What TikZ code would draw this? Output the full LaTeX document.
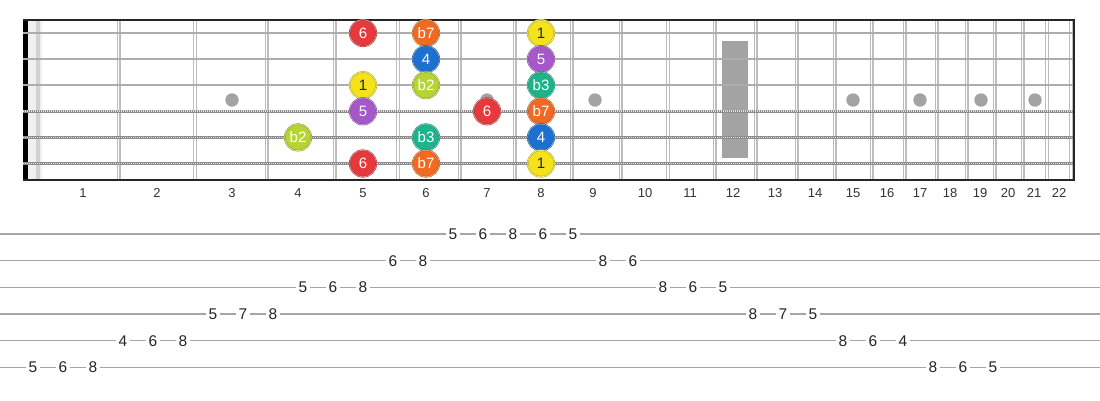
\documentclass[tikz,border=0pt]{standalone}
\usepackage{fontspec}
\setmainfont{Liberation Sans}

\definecolor{fretgray}{HTML}{BDBDBD}
\definecolor{stringgray}{HTML}{ADADAD}
\definecolor{woundgray}{HTML}{8C8C8C}
\definecolor{inlaygray}{HTML}{A3A3A3}
\definecolor{tabgray}{HTML}{A6A6A6}
\definecolor{degI}{HTML}{F4E21C}
\definecolor{degbII}{HTML}{B6D532}
\definecolor{degbIII}{HTML}{1DB48C}
\definecolor{degIV}{HTML}{1C70D0}
\definecolor{degV}{HTML}{A657C8}
\definecolor{degVI}{HTML}{E6393C}
\definecolor{degbVII}{HTML}{F26A22}

\tikzset{
  fretwire/.style={draw=fretgray, line width=1.2pt},
  plainstring/.style={draw=stringgray, line width=2.2pt},
  woundstring/.style={draw=woundgray, line width=3.6pt,
    postaction={draw=black!12, line width=1.8pt, dash pattern=on 1pt off 1pt}},
  tabline/.style={draw=tabgray, line width=1.4pt},
  note/.style={circle, minimum size=26.5pt, inner sep=0pt, fill=#1,
    draw=#1!72!black, line width=0.45pt, double=#1!55!white, double distance=0.7pt,
    text=white, font=\fontsize{15pt}{15pt}\selectfont},
  fretnum/.style={text=black!80, font=\fontsize{13pt}{13pt}\selectfont},
  tabnum/.style={fill=white, inner sep=3pt, text=black!85, font=\fontsize{15.5pt}{15.5pt}\selectfont},
}

\begin{document}
\begin{tikzpicture}[x=1pt, y=-1pt]
  % Board
  \def\boardleft{23}
  \def\boardright{1074}
  \def\boardtop{20}
  \def\boardbot{180}
  \def\tabtop{234}
  \def\tabgap{26.67}

  \fill[white] (0,0) rectangle (1100,400);
  \useasboundingbox (0,0) rectangle (1100,400);

  % Nut
  \fill[black!6] (28,\boardtop) rectangle (42,\boardbot);
  \fill[black!18] (36,\boardtop) rectangle (40,\boardbot);
  \fill[black] (\boardleft,\boardtop) rectangle (28,\boardbot);

  % Inlays
  \foreach \x in {232,363,487,595,853,920,981,1035}
    \fill[inlaygray] (\x,100) circle (6.7pt);
  \fill[inlaygray] (722,40.5) rectangle (748,158);

  % Frets (double wires)
  \foreach \x in {118.5,195,266.5,334.5,398,459.5,514.5,571.5,620.5,668,714.5,755.5,
                  796.5,834.5,871.5,904.5,936.5,966.5,994.5,1022.5,1047,1071} {
    \draw[fretwire] (\x-1.4,\boardtop) -- (\x-1.4,\boardbot);
    \draw[fretwire] (\x+1.4,\boardtop) -- (\x+1.4,\boardbot);
  }

  % Strings
  \foreach \y in {33,59.1,85.2}
    \draw[plainstring] (\boardleft,\y) -- (\boardright,\y);
  \foreach \y in {111.3,137.4,163.5}
    \draw[woundstring] (\boardleft,\y) -- (\boardright,\y);

  % Frame
  \draw[line width=2pt, black!85] (\boardleft,\boardtop) -- (\boardright,\boardtop)
    -- (\boardright,\boardbot) -- (\boardleft,\boardbot);

  % Fret numbers
  \foreach \n/\x in {1/83,2/157,3/232,4/298,5/363,6/426,7/487,8/541,9/593,10/645,11/690,
                     12/733,13/775,14/815,15/853,16/887,17/920,18/950,19/980,20/1008,21/1034,22/1059}
    \node[fretnum] (fret\n) at (\x,193) {\n};

  % Scale notes
  \node[note=degVI]   (s1f5) at (363,33) {6};
  \node[note=degbVII] (s1f6) at (426,33) {b7};
  \node[note=degI, text=black!85] (s1f8) at (541,33) {1};
  \node[note=degIV]   (s2f6) at (426,59.1) {4};
  \node[note=degV]    (s2f8) at (541,59.1) {5};
  \node[note=degI, text=black!85] (s3f5) at (363,85.2) {1};
  \node[note=degbII]  (s3f6) at (426,85.2) {b2};
  \node[note=degbIII] (s3f8) at (541,85.2) {b3};
  \node[note=degV]    (s4f5) at (363,111.3) {5};
  \node[note=degVI]   (s4f7) at (487,111.3) {6};
  \node[note=degbVII] (s4f8) at (541,111.3) {b7};
  \node[note=degbII]  (s5f4) at (298,137.4) {b2};
  \node[note=degbIII] (s5f6) at (426,137.4) {b3};
  \node[note=degIV]   (s5f8) at (541,137.4) {4};
  \node[note=degVI]   (s6f5) at (363,163.5) {6};
  \node[note=degbVII] (s6f6) at (426,163.5) {b7};
  \node[note=degI, text=black!85] (s6f8) at (541,163.5) {1};

  % Tab staff
  \foreach \k in {0,...,5}
    \draw[tabline] (0,{\tabtop+\tabgap*\k}) -- (1100,{\tabtop+\tabgap*\k});

  % Tab numbers: index/string/fret
  \foreach \i/\s/\f in {0/6/5,1/6/6,2/6/8,3/5/4,4/5/6,5/5/8,6/4/5,7/4/7,8/4/8,
                        9/3/5,10/3/6,11/3/8,12/2/6,13/2/8,14/1/5,15/1/6,16/1/8,17/1/6,18/1/5,
                        19/2/8,20/2/6,21/3/8,22/3/6,23/3/5,24/4/8,25/4/7,26/4/5,
                        27/5/8,28/5/6,29/5/4,30/6/8,31/6/6,32/6/5}
    \node[tabnum] (tab\i) at ({33+30*\i},{\tabtop+\tabgap*(\s-1)}) {\f};
\end{tikzpicture}
\end{document}
